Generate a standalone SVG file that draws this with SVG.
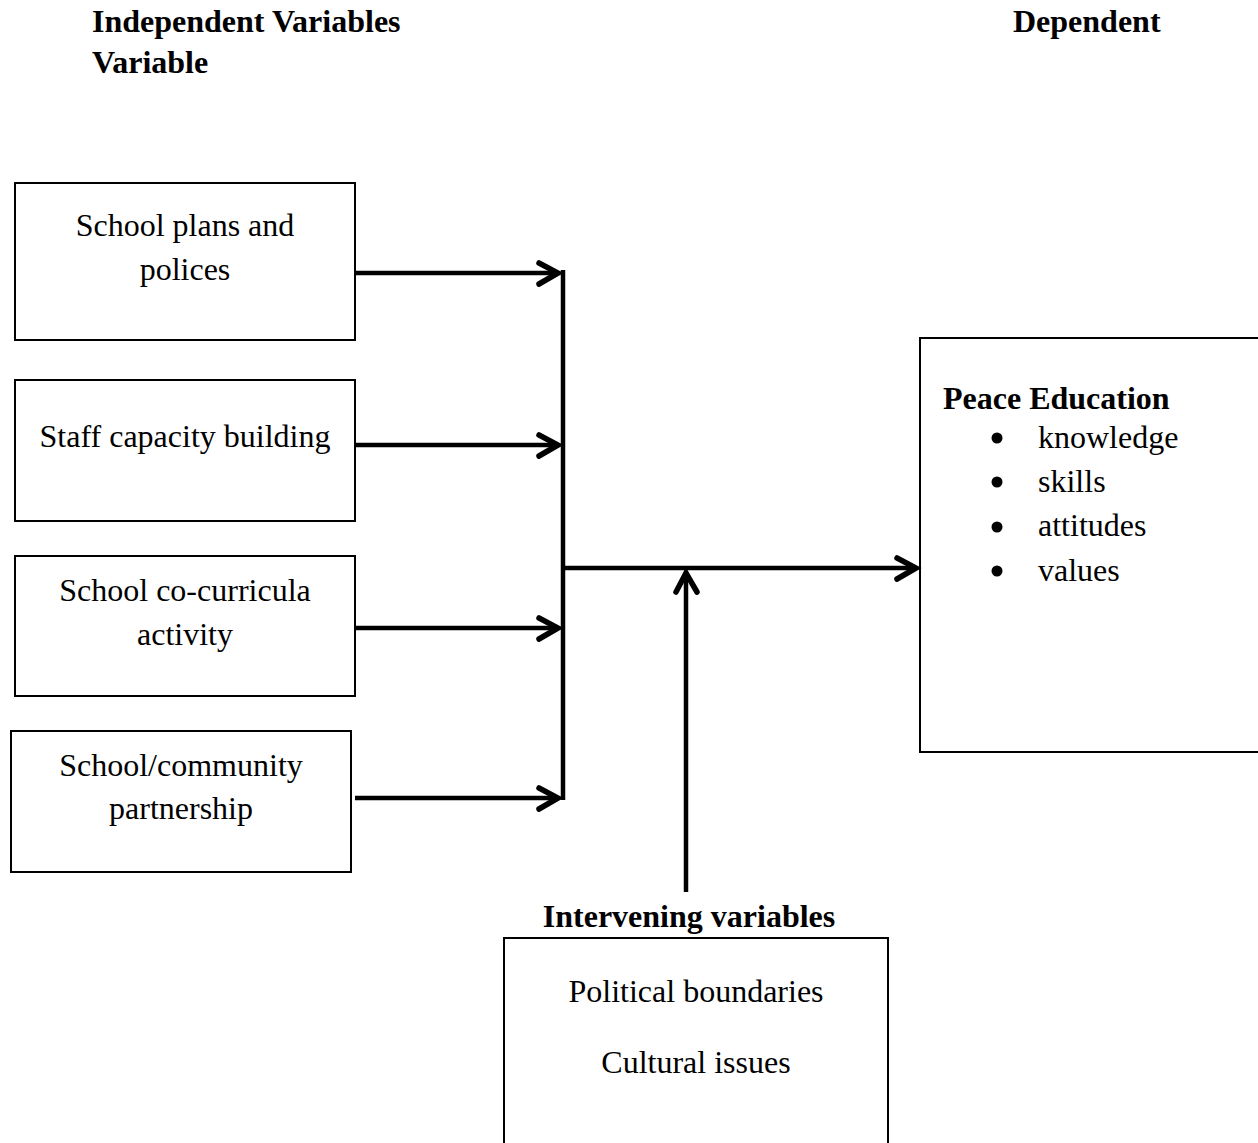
<svg xmlns="http://www.w3.org/2000/svg" width="1258" height="1143" viewBox="0 0 1258 1143">
<style>
text{font-family:"Liberation Serif","Times New Roman",serif;font-size:32px;fill:#000}
.b{font-weight:bold}
.c{text-anchor:middle}
.box{fill:#fff;stroke:#000;stroke-width:2}
.ln{stroke:#000;stroke-width:4.5;fill:none}
.ah{stroke:#000;stroke-width:5.5;fill:none;stroke-linecap:round;stroke-linejoin:miter}
</style>
<rect width="1258" height="1143" fill="#fff"/>
<g id="headers">
<text class="b" x="92" y="32">Independent Variables</text>
<text class="b" x="92" y="73">Variable</text>
<text class="b" x="1013" y="32">Dependent</text>
</g>
<g id="n1"><rect class="box" x="15" y="183" width="340" height="157"/>
<text class="c" x="185" y="236">School plans and</text><text class="c" x="185" y="280">polices</text></g>
<g id="n2"><rect class="box" x="15" y="380" width="340" height="141"/>
<text class="c" x="185" y="447">Staff capacity building</text></g>
<g id="n3"><rect class="box" x="15" y="556" width="340" height="140"/>
<text class="c" x="185" y="601">School co-curricula</text><text class="c" x="185" y="645">activity</text></g>
<g id="n4"><rect class="box" x="11" y="731" width="340" height="141"/>
<text class="c" x="181" y="776">School/community</text><text class="c" x="181" y="819">partnership</text></g>
<g id="n5"><rect class="box" x="920" y="338" width="345" height="414"/>
<text class="b" x="943" y="409">Peace Education</text>
<circle cx="997" cy="438" r="5.5"/><text x="1038" y="448">knowledge</text>
<circle cx="997" cy="482" r="5.5"/><text x="1038" y="492">skills</text>
<circle cx="997" cy="527" r="5.5"/><text x="1038" y="536">attitudes</text>
<circle cx="997" cy="571" r="5.5"/><text x="1038" y="581">values</text></g>
<g id="n6"><text class="b c" x="689" y="927">Intervening variables</text>
<rect class="box" x="504" y="938" width="384" height="220"/>
<text class="c" x="696" y="1002">Political boundaries</text>
<text class="c" x="696" y="1073">Cultural issues</text></g>
<g id="connectors">
<line class="ln" x1="563" y1="270" x2="563" y2="800"/>
<line class="ln" x1="355" y1="273" x2="558" y2="273"/><path class="ah" d="M539 263 L558 273 L539 284"/>
<line class="ln" x1="355" y1="445" x2="558" y2="445"/><path class="ah" d="M539 435 L558 445 L539 456"/>
<line class="ln" x1="355" y1="628" x2="558" y2="628"/><path class="ah" d="M539 618 L558 628 L539 639"/>
<line class="ln" x1="355" y1="798" x2="558" y2="798"/><path class="ah" d="M539 788 L558 798 L539 809"/>
<line class="ln" x1="563" y1="568" x2="916" y2="568"/><path class="ah" d="M897 558 L916 568 L897 579"/>
<line class="ln" x1="686" y1="892" x2="686" y2="573"/><path class="ah" d="M676 592 L686 573 L697 592"/>
</g>
</svg>
